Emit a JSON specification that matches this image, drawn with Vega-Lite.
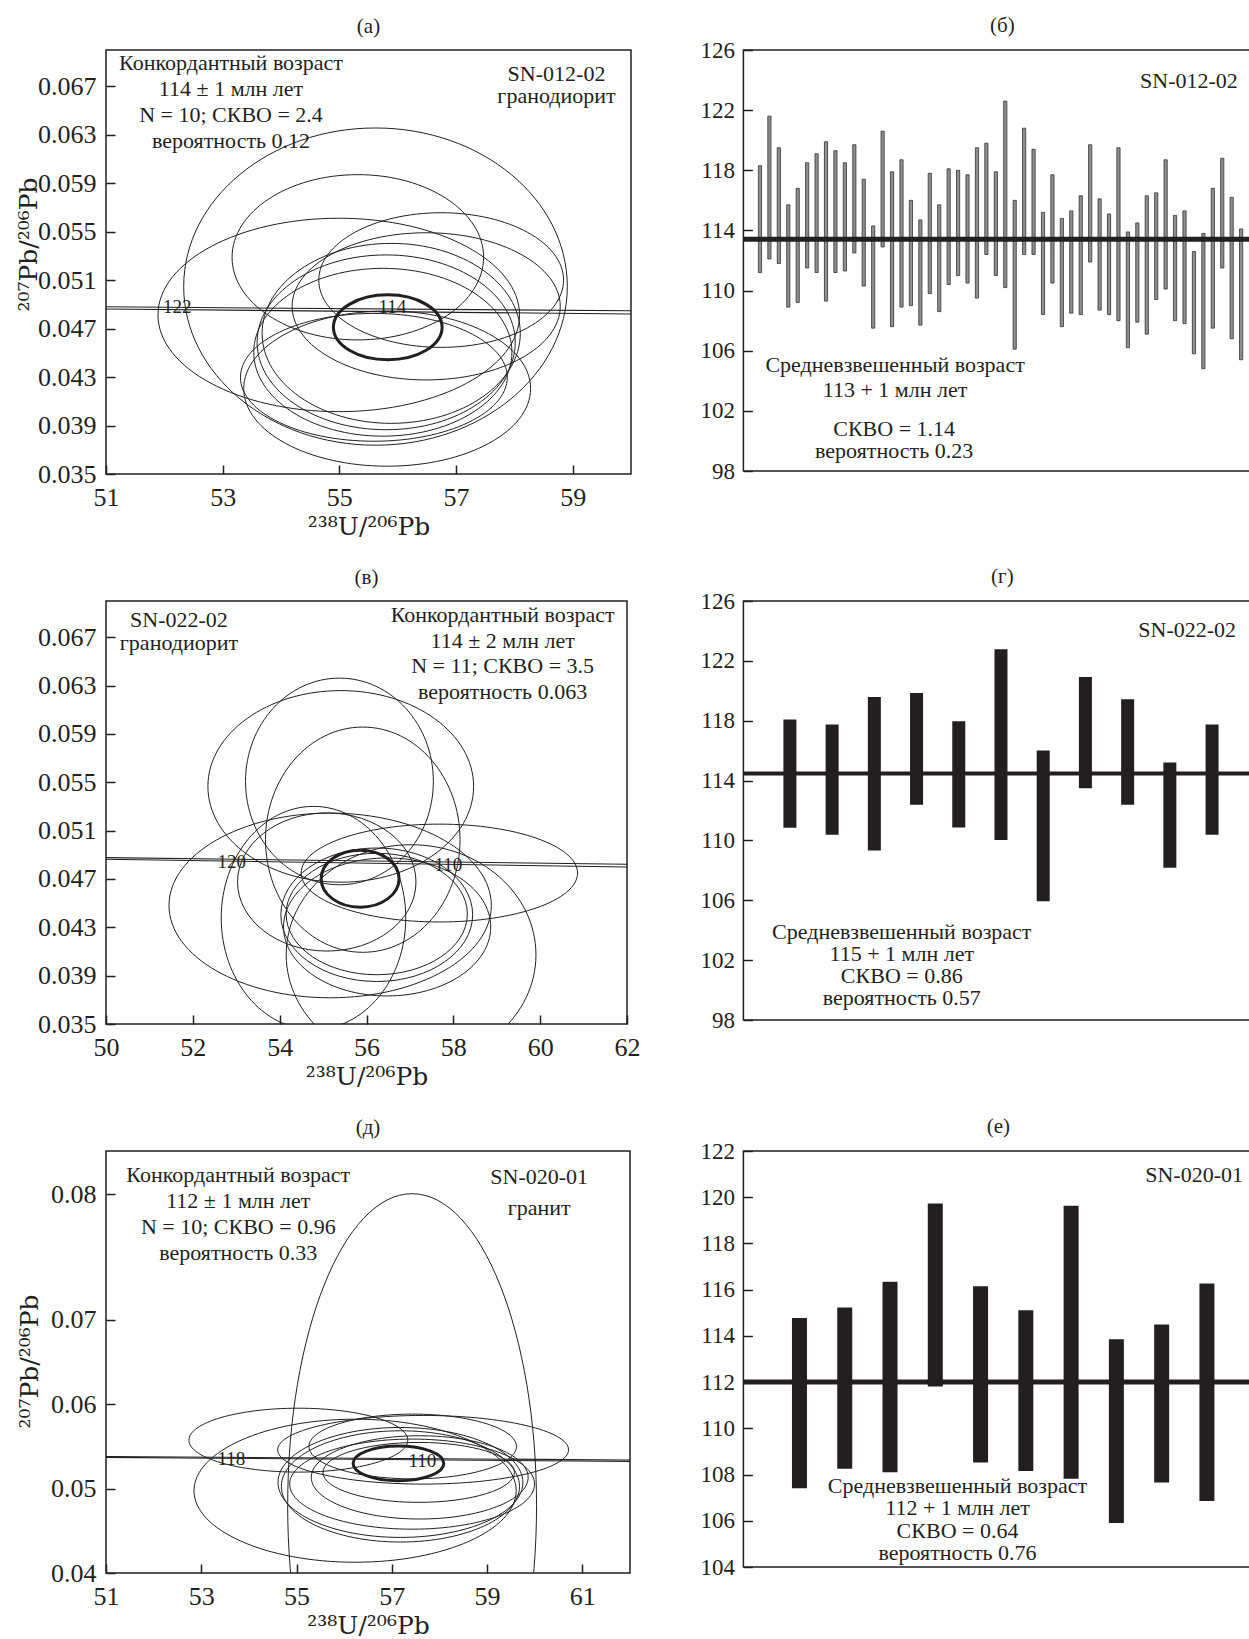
{
  "$schema": "https://vega.github.io/schema/vega-lite/v6.json",
  "background": "white",
  "padding": {"left": 15, "top": 14, "right": 0, "bottom": 0},
  "config": {
    "font": "Liberation Serif",
    "view": {"stroke": "#231f20", "strokeWidth": 1.5},
    "axis": {"grid": false, "labelFont": "Liberation Serif", "titleFont": "DejaVu Serif", "labelFontSize": 26, "titleFontSize": 25, "titleFontWeight": "normal", "labelColor": "#231f20", "titleColor": "#231f20", "tickColor": "#231f20", "tickWidth": 1.5, "tickSize": 9, "offset": -9, "domain": false, "labelOverlap": false, "labelFlush": false},
    "title": {"font": "Liberation Serif", "fontSize": 21, "fontWeight": "normal", "color": "#231f20", "offset": 13, "frame": "group", "anchor": "middle"},
    "text": {"font": "Liberation Serif", "fontSize": 22, "color": "#231f20"}
  },
  "datasets": {
    "one": [{}],
    "conA": [{"b":"u","x":51,"y":0.0488},{"b":"u","x":60,"y":0.04847},{"b":"l","x":51,"y":0.04862},{"b":"l","x":60,"y":0.04821}],
    "conB": [{"b":"u","x":50,"y":0.04877},{"b":"u","x":62,"y":0.04822},{"b":"l","x":50,"y":0.04863},{"b":"l","x":62,"y":0.04799}],
    "conD": [{"b":"u","x":51,"y":0.05381},{"b":"u","x":62,"y":0.05339},{"b":"l","x":51,"y":0.0537},{"b":"l","x":62,"y":0.05322}],
    "labA": [{"t":"122","x":52.222,"y":0.04879},{"t":"114","x":55.908,"y":0.04879}],
    "labB": [{"t":"120","x":52.895,"y":0.04843},{"t":"110","x":57.884,"y":0.04816}],
    "labD": [{"t":"118","x":53.63,"y":0.05354},{"t":"110","x":57.64,"y":0.05327}],
    "ellA": [
      {"id":"a1","x":55.62,"y":0.05047,"sx":3.288,"sy":0.0131,"kind":"d"},
      {"id":"a2","x":55.317,"y":0.05289,"sx":2.156,"sy":0.00682,"kind":"d"},
      {"id":"a3","x":54.99,"y":0.04813,"sx":3.099,"sy":0.00798,"kind":"d"},
      {"id":"a4","x":56.746,"y":0.05101,"sx":2.098,"sy":0.00556,"kind":"d"},
      {"id":"a5","x":56.489,"y":0.04884,"sx":2.298,"sy":0.00608,"kind":"d"},
      {"id":"a6","x":55.889,"y":0.04661,"sx":2.213,"sy":0.00743,"kind":"d"},
      {"id":"a7","x":55.803,"y":0.04587,"sx":2.213,"sy":0.00721,"kind":"d"},
      {"id":"a8","x":55.746,"y":0.04505,"sx":2.213,"sy":0.00693,"kind":"d"},
      {"id":"a9","x":55.592,"y":0.04298,"sx":2.287,"sy":0.00528,"kind":"d"},
      {"id":"a10","x":55.82,"y":0.04205,"sx":2.459,"sy":0.00641,"kind":"d"},
      {"id":"ac","x":55.83,"y":0.04711,"sx":0.932,"sy":0.00268,"kind":"c"}
    ],
    "ellB": [
      {"id":"b1","x":55.407,"y":0.05466,"sx":3.06,"sy":0.00792,"kind":"d"},
      {"id":"b2","x":55.377,"y":0.05507,"sx":2.163,"sy":0.00855,"kind":"d"},
      {"id":"b3","x":55.914,"y":0.05025,"sx":2.24,"sy":0.00932,"kind":"d"},
      {"id":"b4","x":55.163,"y":0.04481,"sx":3.712,"sy":0.00764,"kind":"d"},
      {"id":"b5","x":57.678,"y":0.04749,"sx":3.183,"sy":0.00405,"kind":"d"},
      {"id":"b6","x":54.779,"y":0.04377,"sx":2.125,"sy":0.00924,"kind":"d"},
      {"id":"b7","x":57.027,"y":0.04073,"sx":2.876,"sy":0.0091,"kind":"d"},
      {"id":"b8","x":56.236,"y":0.04404,"sx":2.209,"sy":0.00552,"kind":"d"},
      {"id":"b9","x":56.236,"y":0.0441,"sx":2.087,"sy":0.00502,"kind":"d"},
      {"id":"b10","x":56.475,"y":0.04303,"sx":2.386,"sy":0.00571,"kind":"d"},
      {"id":"b11","x":55.085,"y":0.04675,"sx":2.055,"sy":0.00571,"kind":"d"},
      {"id":"bc","x":55.853,"y":0.04702,"sx":0.897,"sy":0.00236,"kind":"c"}
    ],
    "ellD": [
      {"id":"d1","x":57.426,"y":0.04798,"sx":2.612,"sy":0.03696,"kind":"d"},
      {"id":"d2","x":55.038,"y":0.05574,"sx":2.297,"sy":0.00379,"kind":"d"},
      {"id":"d3","x":56.229,"y":0.04975,"sx":3.382,"sy":0.00848,"kind":"d"},
      {"id":"d4","x":57.657,"y":0.0546,"sx":3.053,"sy":0.00406,"kind":"d"},
      {"id":"d5","x":57.439,"y":0.05499,"sx":2.178,"sy":0.00383,"kind":"d"},
      {"id":"d6","x":57.181,"y":0.05073,"sx":2.57,"sy":0.00651,"kind":"d"},
      {"id":"d7","x":57.181,"y":0.05026,"sx":2.5,"sy":0.00659,"kind":"d"},
      {"id":"d8","x":57.586,"y":0.05133,"sx":2.276,"sy":0.00493,"kind":"d"},
      {"id":"d9","x":57.426,"y":0.05053,"sx":2.57,"sy":0.00533,"kind":"d"},
      {"id":"d10","x":57.565,"y":0.05192,"sx":2.01,"sy":0.00355,"kind":"d"},
      {"id":"dc","x":57.139,"y":0.05298,"sx":0.952,"sy":0.00205,"kind":"c"}
    ],
    "barsB": [
      {"i":1,"lo":111.2,"hi":118.3},{"i":2,"lo":112.1,"hi":121.6},{"i":3,"lo":111.8,"hi":119.5},{"i":4,"lo":108.9,"hi":115.7},
      {"i":5,"lo":109.2,"hi":116.8},{"i":6,"lo":111.5,"hi":118.5},{"i":7,"lo":111.2,"hi":119.1},{"i":8,"lo":109.3,"hi":119.9},
      {"i":9,"lo":111.2,"hi":119.3},{"i":10,"lo":111.3,"hi":118.5},{"i":11,"lo":112.5,"hi":119.7},{"i":12,"lo":110.3,"hi":117.4},
      {"i":13,"lo":107.5,"hi":114.3},{"i":14,"lo":112.9,"hi":120.6},{"i":15,"lo":107.6,"hi":117.9},{"i":16,"lo":108.9,"hi":118.7},
      {"i":17,"lo":109.0,"hi":116.0},{"i":18,"lo":107.7,"hi":114.7},{"i":19,"lo":109.8,"hi":117.8},{"i":20,"lo":108.6,"hi":115.7},
      {"i":21,"lo":110.4,"hi":118.1},{"i":22,"lo":111.0,"hi":118.0},{"i":23,"lo":110.5,"hi":117.7},{"i":24,"lo":109.5,"hi":119.5},
      {"i":25,"lo":112.4,"hi":119.8},{"i":26,"lo":111.0,"hi":117.9},{"i":27,"lo":110.2,"hi":122.6},{"i":28,"lo":106.1,"hi":116.0},
      {"i":29,"lo":112.4,"hi":120.8},{"i":30,"lo":112.4,"hi":119.4},{"i":31,"lo":108.4,"hi":115.2},{"i":32,"lo":110.5,"hi":117.7},
      {"i":33,"lo":107.6,"hi":114.8},{"i":34,"lo":108.5,"hi":115.3},{"i":35,"lo":108.4,"hi":116.3},{"i":36,"lo":111.9,"hi":119.7},
      {"i":37,"lo":108.7,"hi":116.1},{"i":38,"lo":108.4,"hi":115.1},{"i":39,"lo":108.0,"hi":119.5},{"i":40,"lo":106.2,"hi":113.9},
      {"i":41,"lo":107.9,"hi":114.5},{"i":42,"lo":107.1,"hi":116.3},{"i":43,"lo":109.4,"hi":116.5},{"i":44,"lo":110.1,"hi":118.7},
      {"i":45,"lo":108.0,"hi":115.0},{"i":46,"lo":107.8,"hi":115.3},{"i":47,"lo":105.8,"hi":112.6},{"i":48,"lo":104.8,"hi":113.8},
      {"i":49,"lo":107.5,"hi":116.8},{"i":50,"lo":111.5,"hi":118.8},{"i":51,"lo":106.8,"hi":116.2},{"i":52,"lo":105.4,"hi":114.1}
    ],
    "barsG": [
      {"i":1,"lo":110.84,"hi":118.08},{"i":2,"lo":110.38,"hi":117.75},{"i":3,"lo":109.33,"hi":119.59},{"i":4,"lo":112.39,"hi":119.85},
      {"i":5,"lo":110.86,"hi":117.97},{"i":6,"lo":110.03,"hi":122.77},{"i":7,"lo":105.93,"hi":116.01},{"i":8,"lo":113.48,"hi":120.92},
      {"i":9,"lo":112.39,"hi":119.43},{"i":10,"lo":108.17,"hi":115.2},{"i":11,"lo":110.38,"hi":117.75}
    ],
    "barsE": [
      {"i":1,"lo":107.41,"hi":114.77},{"i":2,"lo":108.25,"hi":115.23},{"i":3,"lo":108.1,"hi":116.34},{"i":4,"lo":111.81,"hi":119.73},
      {"i":5,"lo":108.52,"hi":116.15},{"i":6,"lo":108.15,"hi":115.11},{"i":7,"lo":107.82,"hi":119.63},{"i":8,"lo":105.9,"hi":113.85},
      {"i":9,"lo":107.66,"hi":114.49},{"i":10,"lo":106.86,"hi":116.27}
    ]
  },
  "columns": 2,
  "bounds": "flush",
  "spacing": {"row": 127, "column": 112.4},
  "resolve": {"scale": {"shape": "independent", "size": "independent", "strokeWidth": "independent"}, "legend": {"shape": "independent", "size": "independent"}},
  "concat": [
    {
      "width": 525, "height": 424,
      "title": {"text": "(а)"},
      "layer": [
        {
          "data": {"name": "conA"},
          "mark": {"type": "line", "color": "#231f20", "strokeWidth": 1.1, "clip": true},
          "encoding": {
            "x": {"field": "x", "type": "quantitative", "scale": {"domain": [51, 60], "nice": false, "zero": false},
                  "axis": {"values": [51, 53, 55, 57, 59], "format": "d", "title": "²³⁸U/²⁰⁶Pb", "labelBaseline": "middle", "labelPadding": 23, "titleX": 262.5, "titleY": 61, "titleBaseline": "middle", "titleAlign": "center"}},
            "y": {"field": "y", "type": "quantitative", "scale": {"domain": [0.035, 0.07], "nice": false, "zero": false},
                  "axis": {"values": [0.035, 0.039, 0.043, 0.047, 0.051, 0.055, 0.059, 0.063, 0.067], "format": ".3f", "title": "²⁰⁷Pb/²⁰⁶Pb", "labelPadding": 10, "titleX": -87, "titleY": 194, "titleBaseline": "middle", "titleAlign": "center", "titleAngle": 270}},
            "detail": {"field": "b"}
          }
        },
        {
          "data": {"name": "ellA"},
          "mark": {"type": "point", "filled": false, "color": "#231f20", "opacity": 1, "clip": true},
          "encoding": {
            "x": {"field": "x", "type": "quantitative"},
            "y": {"field": "y", "type": "quantitative"},
            "shape": {"field": "id", "type": "nominal", "legend": null, "scale": {
              "domain": ["a1","a2","a3","a4","a5","a6","a7","a8","a9","a10","ac"],
              "range": [
                "M-1,0C-1,-0.457 -0.552,-0.827 0,-0.827C0.552,-0.827 1,-0.457 1,0C1,0.457 0.552,0.827 0,0.827C-0.552,0.827 -1,0.457 -1,0Z",
                "M-1,0C-1,-0.363 -0.552,-0.657 0,-0.657C0.552,-0.657 1,-0.363 1,0C1,0.363 0.552,0.657 0,0.657C-0.552,0.657 -1,0.363 -1,0Z",
                "M-1,0C-1,-0.295 -0.552,-0.535 0,-0.535C0.552,-0.535 1,-0.295 1,0C1,0.295 0.552,0.535 0,0.535C-0.552,0.535 -1,0.295 -1,0Z",
                "M-1,0C-1,-0.304 -0.552,-0.55 0,-0.55C0.552,-0.55 1,-0.304 1,0C1,0.304 0.552,0.55 0,0.55C-0.552,0.55 -1,0.304 -1,0Z",
                "M-1,0C-1,-0.303 -0.552,-0.549 0,-0.549C0.552,-0.549 1,-0.303 1,0C1,0.303 0.552,0.549 0,0.549C-0.552,0.549 -1,0.303 -1,0Z",
                "M-1,0C-1,-0.385 -0.552,-0.697 0,-0.697C0.552,-0.697 1,-0.385 1,0C1,0.385 0.552,0.697 0,0.697C-0.552,0.697 -1,0.385 -1,0Z",
                "M-1,0C-1,-0.374 -0.552,-0.677 0,-0.677C0.552,-0.677 1,-0.374 1,0C1,0.374 0.552,0.677 0,0.677C-0.552,0.677 -1,0.374 -1,0Z",
                "M-1,0C-1,-0.359 -0.552,-0.65 0,-0.65C0.552,-0.65 1,-0.359 1,0C1,0.359 0.552,0.65 0,0.65C-0.552,0.65 -1,0.359 -1,0Z",
                "M-1,0C-1,-0.265 -0.552,-0.479 0,-0.479C0.552,-0.479 1,-0.265 1,0C1,0.265 0.552,0.479 0,0.479C-0.552,0.479 -1,0.265 -1,0Z",
                "M-1,0C-1,-0.299 -0.552,-0.541 0,-0.541C0.552,-0.541 1,-0.299 1,0C1,0.299 0.552,0.541 0,0.541C-0.552,0.541 -1,0.299 -1,0Z",
                "M-1,0C-1,-0.33 -0.552,-0.597 0,-0.597C0.552,-0.597 1,-0.33 1,0C1,0.33 0.552,0.597 0,0.597C-0.552,0.597 -1,0.33 -1,0Z"
              ]}},
            "size": {"field": "sx", "type": "quantitative", "legend": null, "scale": {"type": "pow", "exponent": 2, "domain": [0, 1], "range": [0, 13611]}},
            "strokeWidth": {"condition": {"test": "datum.kind === 'c'", "value": 3}, "value": 1}
          }
        },
        {
          "data": {"name": "labA"},
          "mark": {"type": "text", "fontSize": 19, "baseline": "middle"},
          "encoding": {"x": {"field": "x", "type": "quantitative"}, "y": {"field": "y", "type": "quantitative"}, "text": {"field": "t"}}
        },
        {
          "data": {"name": "one"},
          "mark": {"type": "text", "text": ["Конкордантный возраст", "114 ± 1 млн лет", "N = 10; СКВО = 2.4", "вероятность 0.12"], "lineHeight": 26, "baseline": "alphabetic"},
          "encoding": {"x": {"datum": 53.143, "type": "quantitative"}, "y": {"datum": 0.06838, "type": "quantitative"}}
        },
        {
          "data": {"name": "one"},
          "mark": {"type": "text", "text": ["SN-012-02", "гранодиорит"], "lineHeight": 22.5, "baseline": "alphabetic"},
          "encoding": {"x": {"datum": 58.723, "type": "quantitative"}, "y": {"datum": 0.06745, "type": "quantitative"}}
        }
      ]
    },
    {
      "width": 518, "height": 421,
      "title": {"text": "(б)", "offset": 3},
      "layer": [
        {
          "data": {"name": "barsB"},
          "mark": {"type": "bar", "width": 3.2, "fill": "#8f8f8f", "stroke": "#333333", "strokeWidth": 0.8, "clip": true},
          "encoding": {
            "x": {"field": "i", "type": "quantitative", "scale": {"domain": [-0.227, 53.62], "nice": false, "zero": false}, "axis": null},
            "y": {"field": "lo", "type": "quantitative", "scale": {"domain": [98, 126], "nice": false, "zero": false}, "axis": {"values": [98, 102, 106, 110, 114, 118, 122, 126], "title": null, "labelPadding": 9, "labelFontSize": 23}},
            "y2": {"field": "hi"}
          }
        },
        {
          "data": {"name": "one"},
          "mark": {"type": "rule", "color": "#231f20", "strokeWidth": 5},
          "encoding": {"y": {"datum": 113.41, "type": "quantitative"}}
        },
        {
          "data": {"name": "one"},
          "mark": {"type": "text", "text": "SN-012-02", "baseline": "middle"},
          "encoding": {"x": {"datum": 46.47, "type": "quantitative", "axis": null}, "y": {"datum": 123.97, "type": "quantitative"}}
        },
        {
          "data": {"name": "one"},
          "mark": {"type": "text", "text": ["Средневзвешенный возраст", "113 + 1 млн лет"], "lineHeight": 25, "baseline": "alphabetic"},
          "encoding": {"x": {"datum": 15.32, "type": "quantitative", "axis": null}, "y": {"datum": 104.61, "type": "quantitative"}}
        },
        {
          "data": {"name": "one"},
          "mark": {"type": "text", "text": ["СКВО = 1.14", "вероятность 0.23"], "lineHeight": 22, "baseline": "alphabetic"},
          "encoding": {"x": {"datum": 15.22, "type": "quantitative", "axis": null}, "y": {"datum": 100.35, "type": "quantitative"}}
        }
      ]
    },
    {
      "width": 521, "height": 423,
      "title": {"text": "(в)"},
      "layer": [
        {
          "data": {"name": "conB"},
          "mark": {"type": "line", "color": "#231f20", "strokeWidth": 1.1, "clip": true},
          "encoding": {
            "x": {"field": "x", "type": "quantitative", "scale": {"domain": [50, 62], "nice": false, "zero": false},
                  "axis": {"values": [50, 52, 54, 56, 58, 60, 62], "format": "d", "title": "²³⁸U/²⁰⁶Pb", "labelBaseline": "middle", "labelPadding": 23, "titleX": 260.5, "titleY": 61, "titleBaseline": "middle", "titleAlign": "center"}},
            "y": {"field": "y", "type": "quantitative", "scale": {"domain": [0.035, 0.07], "nice": false, "zero": false},
                  "axis": {"values": [0.035, 0.039, 0.043, 0.047, 0.051, 0.055, 0.059, 0.063, 0.067], "format": ".3f", "title": null, "labelPadding": 10}},
            "detail": {"field": "b"}
          }
        },
        {
          "data": {"name": "ellB"},
          "mark": {"type": "point", "filled": false, "color": "#231f20", "opacity": 1, "clip": true},
          "encoding": {
            "x": {"field": "x", "type": "quantitative"},
            "y": {"field": "y", "type": "quantitative"},
            "shape": {"field": "id", "type": "nominal", "legend": null, "scale": {
              "domain": ["b1","b2","b3","b4","b5","b6","b7","b8","b9","b10","b11","bc"],
              "range": [
                "M-1,0C-1,-0.398 -0.552,-0.721 0,-0.721C0.552,-0.721 1,-0.398 1,0C1,0.398 0.552,0.721 0,0.721C-0.552,0.721 -1,0.398 -1,0Z",
                "M-1,0C-1,-0.608 -0.552,-1.1 0,-1.1C0.552,-1.1 1,-0.608 1,0C1,0.608 0.552,1.1 0,1.1C-0.552,1.1 -1,0.608 -1,0Z",
                "M-1,0C-1,-0.64 -0.552,-1.158 0,-1.158C0.552,-1.158 1,-0.64 1,0C1,0.64 0.552,1.158 0,1.158C-0.552,1.158 -1,0.64 -1,0Z",
                "M-1,0C-1,-0.316 -0.552,-0.573 0,-0.573C0.552,-0.573 1,-0.316 1,0C1,0.316 0.552,0.573 0,0.573C-0.552,0.573 -1,0.316 -1,0Z",
                "M-1,0C-1,-0.196 -0.552,-0.354 0,-0.354C0.552,-0.354 1,-0.196 1,0C1,0.196 0.552,0.354 0,0.354C-0.552,0.354 -1,0.196 -1,0Z",
                "M-1,0C-1,-0.668 -0.552,-1.21 0,-1.21C0.552,-1.21 1,-0.668 1,0C1,0.668 0.552,1.21 0,1.21C-0.552,1.21 -1,0.668 -1,0Z",
                "M-1,0C-1,-0.487 -0.552,-0.881 0,-0.881C0.552,-0.881 1,-0.487 1,0C1,0.487 0.552,0.881 0,0.881C-0.552,0.881 -1,0.487 -1,0Z",
                "M-1,0C-1,-0.384 -0.552,-0.696 0,-0.696C0.552,-0.696 1,-0.384 1,0C1,0.384 0.552,0.696 0,0.696C-0.552,0.696 -1,0.384 -1,0Z",
                "M-1,0C-1,-0.37 -0.552,-0.67 0,-0.67C0.552,-0.67 1,-0.37 1,0C1,0.37 0.552,0.67 0,0.67C-0.552,0.67 -1,0.37 -1,0Z",
                "M-1,0C-1,-0.368 -0.552,-0.666 0,-0.666C0.552,-0.666 1,-0.368 1,0C1,0.368 0.552,0.666 0,0.666C-0.552,0.666 -1,0.368 -1,0Z",
                "M-1,0C-1,-0.427 -0.552,-0.774 0,-0.774C0.552,-0.774 1,-0.427 1,0C1,0.427 0.552,0.774 0,0.774C-0.552,0.774 -1,0.427 -1,0Z",
                "M-1,0C-1,-0.404 -0.552,-0.732 0,-0.732C0.552,-0.732 1,-0.404 1,0C1,0.404 0.552,0.732 0,0.732C-0.552,0.732 -1,0.404 -1,0Z"
              ]}},
            "size": {"field": "sx", "type": "quantitative", "legend": null, "scale": {"type": "pow", "exponent": 2, "domain": [0, 1], "range": [0, 7540]}},
            "strokeWidth": {"condition": {"test": "datum.kind === 'c'", "value": 3}, "value": 1}
          }
        },
        {
          "data": {"name": "labB"},
          "mark": {"type": "text", "fontSize": 19, "baseline": "middle"},
          "encoding": {"x": {"field": "x", "type": "quantitative"}, "y": {"field": "y", "type": "quantitative"}, "text": {"field": "t"}}
        },
        {
          "data": {"name": "one"},
          "mark": {"type": "text", "text": ["SN-022-02", "гранодиорит"], "lineHeight": 23, "baseline": "alphabetic"},
          "encoding": {"x": {"datum": 51.681, "type": "quantitative"}, "y": {"datum": 0.06785, "type": "quantitative"}}
        },
        {
          "data": {"name": "one"},
          "mark": {"type": "text", "text": ["Конкордантный возраст", "114 ± 2 млн лет", "N = 11; СКВО = 3.5", "вероятность 0.063"], "lineHeight": 25.7, "baseline": "alphabetic"},
          "encoding": {"x": {"datum": 59.135, "type": "quantitative"}, "y": {"datum": 0.06826, "type": "quantitative"}}
        }
      ]
    },
    {
      "width": 518, "height": 419,
      "title": {"text": "(г)", "offset": 3},
      "layer": [
        {
          "data": {"name": "barsG"},
          "mark": {"type": "bar", "width": 13, "fill": "#231f20", "clip": true},
          "encoding": {
            "x": {"field": "i", "type": "quantitative", "scale": {"domain": [0.017, 12.05], "nice": false, "zero": false}, "axis": null},
            "y": {"field": "lo", "type": "quantitative", "scale": {"domain": [98, 126], "nice": false, "zero": false}, "axis": {"values": [98, 102, 106, 110, 114, 118, 122, 126], "title": null, "labelPadding": 9, "labelFontSize": 23}},
            "y2": {"field": "hi"}
          }
        },
        {
          "data": {"name": "one"},
          "mark": {"type": "rule", "color": "#231f20", "strokeWidth": 4},
          "encoding": {"y": {"datum": 114.48, "type": "quantitative"}}
        },
        {
          "data": {"name": "one"},
          "mark": {"type": "text", "text": "SN-022-02", "baseline": "middle"},
          "encoding": {"x": {"datum": 10.41, "type": "quantitative", "axis": null}, "y": {"datum": 124.09, "type": "quantitative"}}
        },
        {
          "data": {"name": "one"},
          "mark": {"type": "text", "text": ["Средневзвешенный возраст", "115 + 1 млн лет", "СКВО = 0.86", "вероятность 0.57"], "lineHeight": 22, "baseline": "alphabetic"},
          "encoding": {"x": {"datum": 3.65, "type": "quantitative", "axis": null}, "y": {"datum": 103.44, "type": "quantitative"}}
        }
      ]
    },
    {
      "width": 524, "height": 422,
      "title": {"text": "(д)"},
      "layer": [
        {
          "data": {"name": "conD"},
          "mark": {"type": "line", "color": "#231f20", "strokeWidth": 1.1, "clip": true},
          "encoding": {
            "x": {"field": "x", "type": "quantitative", "scale": {"domain": [51, 62], "nice": false, "zero": false},
                  "axis": {"values": [51, 53, 55, 57, 59, 61], "format": "d", "title": "²³⁸U/²⁰⁶Pb", "labelBaseline": "middle", "labelPadding": 23, "titleX": 262, "titleY": 61, "titleBaseline": "middle", "titleAlign": "center"}},
            "y": {"field": "y", "type": "quantitative", "scale": {"domain": [0.04, 0.09], "nice": false, "zero": false},
                  "axis": {"values": [0.04, 0.05, 0.06, 0.07, 0.0849], "format": ".2f", "title": "²⁰⁷Pb/²⁰⁶Pb", "labelPadding": 10, "titleX": -86, "titleY": 210, "titleBaseline": "middle", "titleAlign": "center", "titleAngle": 270}},
            "detail": {"field": "b"}
          }
        },
        {
          "data": {"name": "ellD"},
          "mark": {"type": "point", "filled": false, "color": "#231f20", "opacity": 1, "clip": true},
          "encoding": {
            "x": {"field": "x", "type": "quantitative"},
            "y": {"field": "y", "type": "quantitative"},
            "shape": {"field": "id", "type": "nominal", "legend": null, "scale": {
              "domain": ["d1","d2","d3","d4","d5","d6","d7","d8","d9","d10","dc"],
              "range": [
                "M-1,0C-1,-1.385 -0.552,-2.507 0,-2.507C0.552,-2.507 1,-1.385 1,0C1,1.385 0.552,2.507 0,2.507C-0.552,2.507 -1,1.385 -1,0Z",
                "M-1,0C-1,-0.161 -0.552,-0.292 0,-0.292C0.552,-0.292 1,-0.161 1,0C1,0.161 0.552,0.292 0,0.292C-0.552,0.292 -1,0.161 -1,0Z",
                "M-1,0C-1,-0.245 -0.552,-0.444 0,-0.444C0.552,-0.444 1,-0.245 1,0C1,0.245 0.552,0.444 0,0.444C-0.552,0.444 -1,0.245 -1,0Z",
                "M-1,0C-1,-0.13 -0.552,-0.236 0,-0.236C0.552,-0.236 1,-0.13 1,0C1,0.13 0.552,0.236 0,0.236C-0.552,0.236 -1,0.13 -1,0Z",
                "M-1,0C-1,-0.172 -0.552,-0.312 0,-0.312C0.552,-0.312 1,-0.172 1,0C1,0.172 0.552,0.312 0,0.312C-0.552,0.312 -1,0.172 -1,0Z",
                "M-1,0C-1,-0.248 -0.552,-0.449 0,-0.449C0.552,-0.449 1,-0.248 1,0C1,0.248 0.552,0.449 0,0.449C-0.552,0.449 -1,0.248 -1,0Z",
                "M-1,0C-1,-0.258 -0.552,-0.467 0,-0.467C0.552,-0.467 1,-0.258 1,0C1,0.258 0.552,0.467 0,0.467C-0.552,0.467 -1,0.258 -1,0Z",
                "M-1,0C-1,-0.212 -0.552,-0.384 0,-0.384C0.552,-0.384 1,-0.212 1,0C1,0.212 0.552,0.384 0,0.384C-0.552,0.384 -1,0.212 -1,0Z",
                "M-1,0C-1,-0.203 -0.552,-0.368 0,-0.368C0.552,-0.368 1,-0.203 1,0C1,0.203 0.552,0.368 0,0.368C-0.552,0.368 -1,0.203 -1,0Z",
                "M-1,0C-1,-0.173 -0.552,-0.313 0,-0.313C0.552,-0.313 1,-0.173 1,0C1,0.173 0.552,0.313 0,0.313C-0.552,0.313 -1,0.173 -1,0Z",
                "M-1,0C-1,-0.211 -0.552,-0.382 0,-0.382C0.552,-0.382 1,-0.211 1,0C1,0.211 0.552,0.382 0,0.382C-0.552,0.382 -1,0.211 -1,0Z"
              ]}},
            "size": {"field": "sx", "type": "quantitative", "legend": null, "scale": {"type": "pow", "exponent": 2, "domain": [0, 1], "range": [0, 9077]}},
            "strokeWidth": {"condition": {"test": "datum.kind === 'c'", "value": 3}, "value": 1}
          }
        },
        {
          "data": {"name": "labD"},
          "mark": {"type": "text", "fontSize": 19, "baseline": "middle"},
          "encoding": {"x": {"field": "x", "type": "quantitative"}, "y": {"field": "y", "type": "quantitative"}, "text": {"field": "t"}}
        },
        {
          "data": {"name": "one"},
          "mark": {"type": "text", "text": ["Конкордантный возраст", "112 ± 1 млн лет", "N = 10; СКВО = 0.96", "вероятность 0.33"], "lineHeight": 26, "baseline": "alphabetic"},
          "encoding": {"x": {"datum": 53.777, "type": "quantitative"}, "y": {"datum": 0.08637, "type": "quantitative"}}
        },
        {
          "data": {"name": "one"},
          "mark": {"type": "text", "text": ["SN-020-01", "гранит"], "lineHeight": 31, "baseline": "alphabetic"},
          "encoding": {"x": {"datum": 60.094, "type": "quantitative"}, "y": {"datum": 0.08605, "type": "quantitative"}}
        }
      ]
    },
    {
      "width": 510, "height": 416,
      "title": {"text": "(е)", "offset": 3},
      "layer": [
        {
          "data": {"name": "barsE"},
          "mark": {"type": "bar", "width": 15, "fill": "#231f20", "clip": true},
          "encoding": {
            "x": {"field": "i", "type": "quantitative", "scale": {"domain": [-0.128, 10.916], "nice": false, "zero": false}, "axis": null},
            "y": {"field": "lo", "type": "quantitative", "scale": {"domain": [104, 122], "nice": false, "zero": false}, "axis": {"values": [104, 106, 108, 110, 112, 114, 116, 118, 120, 122], "title": null, "labelPadding": 9, "labelFontSize": 23}},
            "y2": {"field": "hi"}
          }
        },
        {
          "data": {"name": "one"},
          "mark": {"type": "rule", "color": "#231f20", "strokeWidth": 5},
          "encoding": {"y": {"datum": 112.0, "type": "quantitative"}}
        },
        {
          "data": {"name": "one"},
          "mark": {"type": "text", "text": "SN-020-01", "baseline": "middle"},
          "encoding": {"x": {"datum": 9.716, "type": "quantitative", "axis": null}, "y": {"datum": 120.96, "type": "quantitative"}}
        },
        {
          "data": {"name": "one"},
          "mark": {"type": "text", "text": ["Средневзвешенный возраст", "112 + 1 млн лет", "СКВО = 0.64", "вероятность 0.76"], "lineHeight": 22.5, "baseline": "alphabetic"},
          "encoding": {"x": {"datum": 4.491, "type": "quantitative", "axis": null}, "y": {"datum": 107.22, "type": "quantitative"}}
        }
      ]
    }
  ]
}
